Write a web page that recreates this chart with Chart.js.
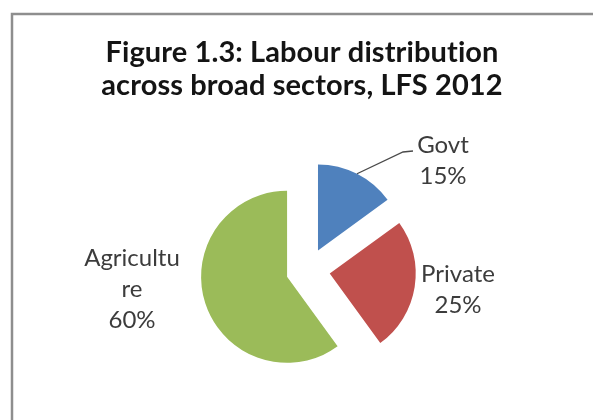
<!DOCTYPE html>
<html>
<head>
<meta charset="utf-8">
<script src="https://cdn.jsdelivr.net/npm/chart.js@4"></script>
<style>
  html, body { margin: 0; padding: 0; background: #ffffff; }
  #wrap { width: 593px; height: 420px; }
</style>
</head>
<body>
<div id="wrap"><canvas id="c" width="593" height="420"></canvas></div>
<script>
// Labour distribution by broad sector (LFS 2012), shares in percent
const sectors = ['Govt', 'Private', 'Agriculture'];
const shares = [15, 25, 60];
const labelLines = [['Govt'], ['Private'], ['Agricultu', 're']];
const titleLines = ['Figure 1.3: Labour distribution', 'across broad sectors, LFS 2012'];

const sliceColors = ['#4F81BD', '#C0504D', '#9BBB59'];
const EXPLODE = 22;     // px each slice is pulled out from the centre
const PIE_RADIUS = 86;

// label blocks: anchor relative to the pie centre, first baseline offset
const labelPlace = [
  { dx: 135, dy: -117 },
  { dx: 150, dy: 12 },
  { dx: -176, dy: -4 }
];
const LINE_GAP = 31;

// Pie whose slices are all pulled out by the same distance, keeping one radius
class ExplodedPie extends Chart.PieController {
  draw() {
    const ctx = this.chart.ctx;
    this._cachedMeta.data.forEach(arc => {
      const mid = (arc.startAngle + arc.endAngle) / 2;
      ctx.save();
      ctx.translate(Math.cos(mid) * EXPLODE, Math.sin(mid) * EXPLODE);
      arc.draw(ctx);
      ctx.restore();
    });
  }
}
ExplodedPie.id = 'explodedPie';
ExplodedPie.defaults = Chart.PieController.defaults;
ExplodedPie.overrides = Chart.PieController.overrides;
Chart.register(ExplodedPie);

const overlay = {
  id: 'overlay',
  beforeDraw(chart) {
    const ctx = chart.ctx;
    ctx.save();
    // frame (top and left edges visible)
    ctx.strokeStyle = '#8e8e8e';
    ctx.lineWidth = 2.5;
    ctx.beginPath();
    ctx.moveTo(12, 420);
    ctx.lineTo(12, 14);
    ctx.lineTo(593, 14);
    ctx.stroke();
    // title (slight tracking keeps "ti" from joining into a ligature)
    ctx.fillStyle = '#141414';
    ctx.font = 'bold 29px Lato';
    if ('letterSpacing' in ctx) ctx.letterSpacing = '0.1px';
    ctx.textAlign = 'center';
    ctx.textBaseline = 'alphabetic';
    ctx.fillText(titleLines[0], 302, 62);
    ctx.fillText(titleLines[1], 302, 95);
    ctx.restore();
  },
  afterDatasetsDraw(chart) {
    const ctx = chart.ctx;
    const meta = chart.getDatasetMeta(0);
    const total = shares.reduce((a, b) => a + b, 0);
    ctx.save();
    ctx.fillStyle = '#3c3c3c';
    ctx.font = '24px Lato';
    ctx.textAlign = 'center';
    ctx.textBaseline = 'alphabetic';
    meta.data.forEach((arc, i) => {
      const p = labelPlace[i];
      const x = arc.x + p.dx;
      const y = arc.y + p.dy;
      const lines = labelLines[i].concat([Math.round(shares[i] / total * 100) + '%']);
      lines.forEach((t, k) => ctx.fillText(t, x, y + k * LINE_GAP));
    });
    // leader line from the Govt slice to its label
    const g = meta.data[0];
    const mid = (g.startAngle + g.endAngle) / 2;
    const cx = g.x + Math.cos(mid) * EXPLODE;
    const cy = g.y + Math.sin(mid) * EXPLODE;
    const sx = cx + Math.cos(mid) * g.outerRadius;
    const sy = cy + Math.sin(mid) * g.outerRadius;
    ctx.strokeStyle = '#4a4a4a';
    ctx.lineWidth = 1.3;
    ctx.beginPath();
    ctx.moveTo(sx, sy);
    ctx.lineTo(g.x + 95, g.y - 118);
    ctx.lineTo(g.x + 105, g.y - 119);
    ctx.stroke();
    ctx.restore();
  }
};

new Chart(document.getElementById('c'), {
  type: 'explodedPie',
  data: {
    labels: sectors,
    datasets: [{
      data: shares,
      backgroundColor: sliceColors,
      borderWidth: 0,
      hoverOffset: 0,
      radius: PIE_RADIUS
    }]
  },
  options: {
    responsive: false,
    animation: false,
    layout: { padding: { left: 123, right: 100, top: 140, bottom: 20 } },
    plugins: {
      legend: { display: false },
      title: { display: false },
      tooltip: { enabled: false }
    }
  },
  plugins: [overlay]
});
</script>
</body>
</html>
